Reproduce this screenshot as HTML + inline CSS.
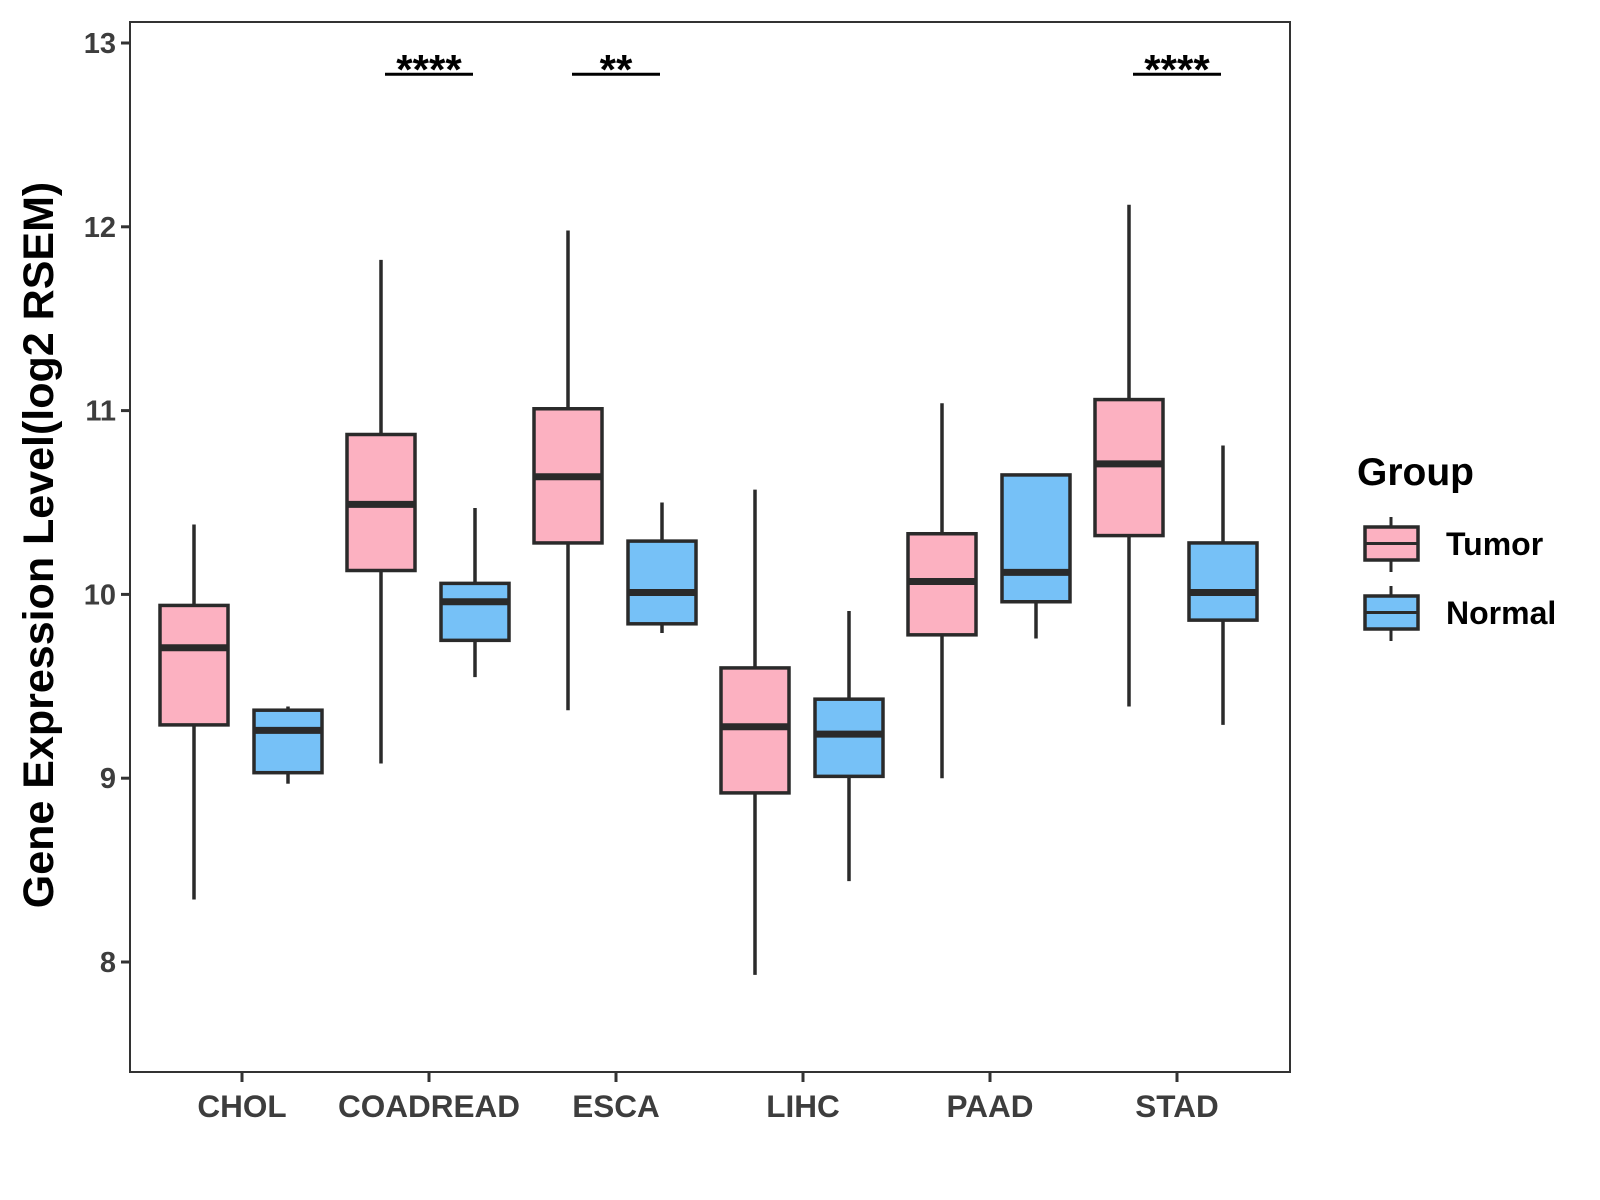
<!DOCTYPE html>
<html><head><meta charset="utf-8"><style>body{margin:0;background:#fff}svg{display:block}</style></head>
<body>
<svg id="chart" width="1600" height="1200" xmlns="http://www.w3.org/2000/svg" font-family="Liberation Sans, Arial, sans-serif">
<g id="plot"></g>
</svg>
<script>
const categories=["CHOL","COADREAD","ESCA","LIHC","PAAD","STAD"];
// [lower whisker, q1, median, q3, upper whisker]
const tumor=[[8.34,9.29,9.71,9.94,10.38],[9.08,10.13,10.49,10.87,11.82],[9.37,10.28,10.64,11.01,11.98],[7.93,8.92,9.28,9.60,10.57],[9.00,9.78,10.07,10.33,11.04],[9.39,10.32,10.71,11.06,12.12]];
const normal=[[8.97,9.03,9.26,9.37,9.39],[9.55,9.75,9.96,10.06,10.47],[9.79,9.84,10.01,10.29,10.50],[8.44,9.01,9.24,9.43,9.91],[9.76,9.96,10.12,10.65,10.65],[9.29,9.86,10.01,10.28,10.81]];
const yTicks=[8,9,10,11,12,13];
const sigLabels=["","****","**","","","****"];
const sigLevel=12.83;
const groups=["Tumor","Normal"];
const colors=["#FCB1C1","#76C1F7"];

const NS="http://www.w3.org/2000/svg";
const L=130,R=1290,T=22,B=1072;
const y=v=>962-(v-8)*183.8;
const x=i=>242+i*187;
const g=document.getElementById('plot');
function el(tag,a,parent){const e=document.createElementNS(NS,tag);for(const k in a)e.setAttribute(k,a[k]);(parent||g).appendChild(e);return e;}

const panel=el('rect',{x:L,y:T,width:R-L,height:B-T,fill:'none',stroke:'#333',"stroke-width":2});



yTicks.forEach(t=>{
  const ln=el('line',{x1:L-9,x2:L,y1:y(t),y2:y(t),stroke:'#333',"stroke-width":3});
  
  
  const tx=el('text',{x:L-14,y:y(t)+10,"text-anchor":"end","font-size":29,"font-weight":"bold",fill:"#3d3d3d"});
  tx.textContent=t;
  
  
});
categories.forEach((c,i)=>{
  const ln=el('line',{x1:x(i),x2:x(i),y1:B,y2:B+10,stroke:'#333',"stroke-width":3});
  
  
  const tx=el('text',{x:x(i),y:B+45,"text-anchor":"middle","font-size":31.5,"font-weight":"bold",fill:"#3d3d3d"});
  tx.textContent=c;
  
  
});

function box(cx,d,fill,name){
  const bg=el('g',{});
  
  
  const hw=34;
  el('line',{x1:cx,x2:cx,y1:y(d[4]),y2:y(d[3]),stroke:'#2a2a2a',"stroke-width":3.5},bg);
  el('line',{x1:cx,x2:cx,y1:y(d[1]),y2:y(d[0]),stroke:'#2a2a2a',"stroke-width":3.5},bg);
  el('rect',{x:cx-hw,y:y(d[3]),width:2*hw,height:y(d[1])-y(d[3]),fill:fill,stroke:'#2a2a2a',"stroke-width":3.5},bg);
  el('line',{x1:cx-hw,x2:cx+hw,y1:y(d[2]),y2:y(d[2]),stroke:'#2a2a2a',"stroke-width":7},bg);
}
categories.forEach((c,i)=>{
  box(x(i)-48,tumor[i],colors[0],'box-tumor-'+c.toLowerCase());
  box(x(i)+46,normal[i],colors[1],'box-normal-'+c.toLowerCase());
  if(sigLabels[i]){
    const ln=el('line',{x1:x(i)-44,x2:x(i)+44,y1:y(sigLevel),y2:y(sigLevel),stroke:'#000',"stroke-width":3});
    
    
    const tx=el('text',{x:x(i),y:y(sigLevel)+10,"text-anchor":"middle","font-size":42,"font-weight":"bold",fill:"#000"});
    tx.textContent=sigLabels[i];
    
    
  }
});

const yt=el('text',{x:0,y:0,transform:"translate(53,545) rotate(-90)","text-anchor":"middle","font-size":43,"font-weight":"bold",fill:"#000"});
yt.textContent="Gene Expression Level(log2 RSEM)";



const lt=el('text',{x:1357,y:485,"font-size":39,"font-weight":"bold",fill:"#000"});
lt.textContent="Group";


groups.forEach((gname,k)=>{
  const top=527+k*69;
  const lg=el('g',{});
  
  
  el('line',{x1:1391,x2:1391,y1:top-10,y2:top+45,stroke:'#2a2a2a',"stroke-width":3},lg);
  el('rect',{x:1365,y:top,width:53,height:33,fill:colors[k],stroke:'#2a2a2a',"stroke-width":3.5},lg);
  el('line',{x1:1365,x2:1418,y1:top+16.5,y2:top+16.5,stroke:'#2a2a2a',"stroke-width":3},lg);
  const tx=el('text',{x:1446,y:top+28,"font-size":32,"font-weight":"bold",fill:"#000"},lg);
  tx.textContent=gname;
});
</script>
</body></html>
